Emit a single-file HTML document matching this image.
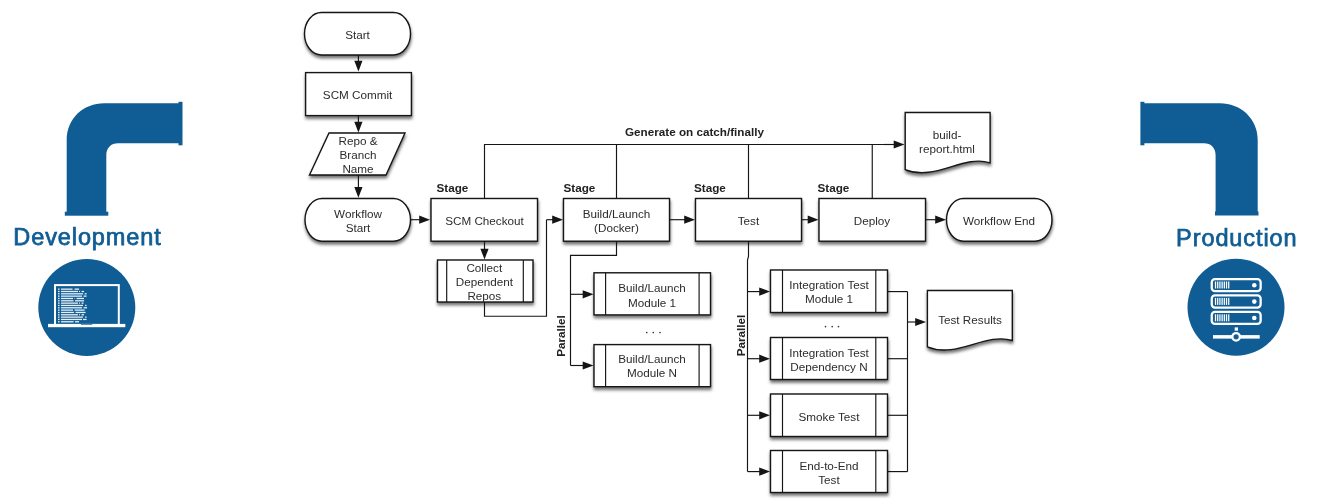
<!DOCTYPE html>
<html><head><meta charset="utf-8">
<style>
html,body{margin:0;padding:0;background:#fff;width:1322px;height:499px;overflow:hidden}
svg{position:absolute;left:0;top:0;display:block;will-change:transform}
.t{font-family:"Liberation Sans",sans-serif;font-size:11.7px;fill:#2c2c2c}
.b{font-family:"Liberation Sans",sans-serif;font-size:11.7px;font-weight:bold;fill:#222}
.lab{font-family:"Liberation Sans",sans-serif;font-size:23.5px;letter-spacing:0.9px;font-weight:normal;fill:#0f5d94;stroke:#0f5d94;stroke-width:0.75px}
.ah{fill:#151515}
</style></head><body>
<svg width="1322" height="499" viewBox="0 0 1322 499">
<defs>
<filter id="sh" x="-10%" y="-20%" width="130%" height="160%">
<feDropShadow dx="0.4" dy="2.7" stdDeviation="1.7" flood-color="#000" flood-opacity="0.55"/>
</filter>
</defs>

<path fill="#0f5d94" d="M66.7 212V140 C66.7 118 84 103.3 104 103.3 H180 V143.3 H118 C111 143.3 106.3 148 106.3 155 V212 Z"/>
<rect fill="#0f5d94" x="64.8" y="211.7" width="43.5" height="4"/>
<rect fill="#0f5d94" x="178.5" y="101.8" width="4" height="43.5"/>


<path fill="#0f5d94" d="M1257.7 212V140 C1257.7 118 1240 103.3 1220 103.3 H1142 V143.3 H1204 C1211 143.3 1215.6 148 1215.6 155 V212 Z"/>
<rect fill="#0f5d94" x="1215" y="211.5" width="43.5" height="4"/>
<rect fill="#0f5d94" x="1140.4" y="101.8" width="4" height="43.5"/>

<text class="lab" x="87.5" y="245.2" text-anchor="middle">Development</text>
<text class="lab" x="1236.8" y="245.5" text-anchor="middle" letter-spacing="1.1">Production</text>

<circle cx="86.8" cy="307.5" r="48.5" fill="#0f5d94"/>
<rect x="55" y="285.1" width="63.8" height="40" fill="none" stroke="#fff" stroke-width="2"/>
<rect x="48" y="323.9" width="77.3" height="3.3" fill="#fff"/>
<rect x="80.9" y="323.9" width="11.4" height="1.1" fill="#5f8fb5"/>
<rect x="58" y="288.50" width="1.6" height="1.3" fill="#e8eef5"/><rect x="61.02" y="288.50" width="11.52" height="1.3" fill="#e8eef5"/><rect x="74.55" y="288.50" width="4.51" height="1.3" fill="#e8eef5"/><rect x="58" y="290.83" width="1.6" height="1.3" fill="#e8eef5"/><rect x="61.02" y="290.83" width="17.03" height="1.3" fill="#e8eef5"/><rect x="79.06" y="290.83" width="1.00" height="1.3" fill="#e8eef5"/><rect x="81.56" y="290.83" width="2.51" height="1.3" fill="#e8eef5"/><rect x="58" y="293.16" width="1.6" height="1.3" fill="#e8eef5"/><rect x="61.02" y="293.16" width="22.04" height="1.3" fill="#e8eef5"/><rect x="84.57" y="293.16" width="2.00" height="1.3" fill="#e8eef5"/><rect x="58" y="295.49" width="1.6" height="1.3" fill="#e8eef5"/><rect x="61.02" y="295.49" width="21.04" height="1.3" fill="#e8eef5"/><rect x="83.57" y="295.49" width="3.01" height="1.3" fill="#e8eef5"/><rect x="58" y="297.82" width="1.6" height="1.3" fill="#e8eef5"/><rect x="61.02" y="297.82" width="12.02" height="1.3" fill="#e8eef5"/><rect x="74.55" y="297.82" width="0.50" height="1.3" fill="#e8eef5"/><rect x="76.55" y="297.82" width="7.52" height="1.3" fill="#e8eef5"/><rect x="58" y="300.15" width="1.6" height="1.3" fill="#e8eef5"/><rect x="61.02" y="300.15" width="12.53" height="1.3" fill="#e8eef5"/><rect x="75.05" y="300.15" width="9.02" height="1.3" fill="#e8eef5"/><rect x="58" y="302.48" width="1.6" height="1.3" fill="#e8eef5"/><rect x="61.02" y="302.48" width="17.03" height="1.3" fill="#e8eef5"/><rect x="79.06" y="302.48" width="1.00" height="1.3" fill="#e8eef5"/><rect x="81.56" y="302.48" width="2.00" height="1.3" fill="#e8eef5"/><rect x="58" y="304.81" width="1.6" height="1.3" fill="#e8eef5"/><rect x="61.02" y="304.81" width="22.04" height="1.3" fill="#e8eef5"/><rect x="85.07" y="304.81" width="1.50" height="1.3" fill="#e8eef5"/><rect x="58" y="307.14" width="1.6" height="1.3" fill="#e8eef5"/><rect x="61.02" y="307.14" width="21.04" height="1.3" fill="#e8eef5"/><rect x="83.57" y="307.14" width="3.51" height="1.3" fill="#e8eef5"/><rect x="58" y="309.47" width="1.6" height="1.3" fill="#e8eef5"/><rect x="61.02" y="309.47" width="12.02" height="1.3" fill="#e8eef5"/><rect x="74.55" y="309.47" width="10.02" height="1.3" fill="#e8eef5"/><rect x="58" y="311.80" width="1.6" height="1.3" fill="#e8eef5"/><rect x="61.02" y="311.80" width="13.03" height="1.3" fill="#e8eef5"/><rect x="75.55" y="311.80" width="10.02" height="1.3" fill="#e8eef5"/><rect x="58" y="314.13" width="1.6" height="1.3" fill="#e8eef5"/><rect x="61.02" y="314.13" width="17.03" height="1.3" fill="#e8eef5"/><rect x="79.06" y="314.13" width="1.00" height="1.3" fill="#e8eef5"/><rect x="81.56" y="314.13" width="2.51" height="1.3" fill="#e8eef5"/><rect x="58" y="316.46" width="1.6" height="1.3" fill="#e8eef5"/><rect x="61.02" y="316.46" width="22.04" height="1.3" fill="#e8eef5"/><rect x="85.07" y="316.46" width="1.50" height="1.3" fill="#e8eef5"/><rect x="58" y="318.79" width="1.6" height="1.3" fill="#e8eef5"/><rect x="61.02" y="318.79" width="21.04" height="1.3" fill="#e8eef5"/><rect x="83.07" y="318.79" width="3.51" height="1.3" fill="#e8eef5"/><rect x="58" y="321.12" width="1.6" height="1.3" fill="#e8eef5"/><rect x="61.02" y="321.12" width="12.53" height="1.3" fill="#e8eef5"/><rect x="75.05" y="321.12" width="4.01" height="1.3" fill="#e8eef5"/>


<circle cx="1236" cy="307.2" r="48.5" fill="#0f5d94"/>
<rect x="1211.75" y="279.04999999999995" width="48.9" height="12.1" rx="3.2" fill="none" stroke="#fff" stroke-width="2.3"/><rect x="1214.90" y="281.5" width="1.25" height="7" fill="#fff"/><rect x="1217.10" y="281.5" width="1.25" height="7" fill="#fff"/><rect x="1219.30" y="281.5" width="1.25" height="7" fill="#fff"/><rect x="1221.50" y="281.5" width="1.25" height="7" fill="#fff"/><rect x="1223.70" y="281.5" width="1.25" height="7" fill="#fff"/><rect x="1225.90" y="281.5" width="1.25" height="7" fill="#fff"/><rect x="1228.10" y="281.5" width="1.25" height="7" fill="#fff"/><circle cx="1254.3" cy="285.2" r="2.3" fill="#fff"/><rect x="1211.75" y="295.45" width="48.9" height="12.1" rx="3.2" fill="none" stroke="#fff" stroke-width="2.3"/><rect x="1214.90" y="297.90000000000003" width="1.25" height="7" fill="#fff"/><rect x="1217.10" y="297.90000000000003" width="1.25" height="7" fill="#fff"/><rect x="1219.30" y="297.90000000000003" width="1.25" height="7" fill="#fff"/><rect x="1221.50" y="297.90000000000003" width="1.25" height="7" fill="#fff"/><rect x="1223.70" y="297.90000000000003" width="1.25" height="7" fill="#fff"/><rect x="1225.90" y="297.90000000000003" width="1.25" height="7" fill="#fff"/><rect x="1228.10" y="297.90000000000003" width="1.25" height="7" fill="#fff"/><circle cx="1254.3" cy="301.6" r="2.3" fill="#fff"/><rect x="1211.75" y="311.84999999999997" width="48.9" height="12.1" rx="3.2" fill="none" stroke="#fff" stroke-width="2.3"/><rect x="1214.90" y="314.3" width="1.25" height="7" fill="#fff"/><rect x="1217.10" y="314.3" width="1.25" height="7" fill="#fff"/><rect x="1219.30" y="314.3" width="1.25" height="7" fill="#fff"/><rect x="1221.50" y="314.3" width="1.25" height="7" fill="#fff"/><rect x="1223.70" y="314.3" width="1.25" height="7" fill="#fff"/><rect x="1225.90" y="314.3" width="1.25" height="7" fill="#fff"/><rect x="1228.10" y="314.3" width="1.25" height="7" fill="#fff"/><circle cx="1254.3" cy="318.0" r="2.3" fill="#fff"/>
<rect x="1234.7" y="327.4" width="3.3" height="3.3" fill="#fff"/>
<rect x="1213" y="335.1" width="46.7" height="3.5" fill="#fff"/>
<circle cx="1236.1" cy="336.8" r="3.75" fill="#0f5d94" stroke="#fff" stroke-width="2.3"/>

<g fill="#fff" stroke="#151515" stroke-width="1.4" filter="url(#sh)">
<rect x="304.5" y="12.5" width="106.0" height="42.5" rx="17" ry="21.25" /><rect x="305.6" y="72.6" width="105.79999999999995" height="43.0" /><path d="M329 133 L405 133 L386 175 L309.5 175Z" /><rect x="305" y="198.5" width="105.5" height="42.69999999999999" rx="17" ry="21.349999999999994" /><rect x="431" y="198.5" width="106.5" height="42.69999999999999" /><rect x="437.5" y="260" width="95.5" height="42" /><rect x="563.5" y="198.5" width="106.0" height="42.69999999999999" /><rect x="695.5" y="198.5" width="106.0" height="42.69999999999999" /><rect x="819" y="198.5" width="106.5" height="42.69999999999999" /><rect x="946.5" y="198.5" width="105.5" height="42.69999999999999" rx="17" ry="21.349999999999994" /><path d="M905.2 112.5H990.1V162.8 C962.8000000000001 154.3 934.9000000000001 181.7 905.2 169.6 Z" /><rect x="594" y="272.8" width="116.5" height="42.099999999999966" /><rect x="594" y="344.6" width="116.5" height="42.099999999999966" /><rect x="770.5" y="270" width="117.0" height="42.5" /><rect x="770.5" y="337.5" width="117.0" height="42.0" /><rect x="770.5" y="394" width="117.0" height="42.5" /><rect x="770.5" y="450.5" width="117.0" height="42.0" /><path d="M927.4 290.5H1012.3V340.5 C985.0 332.0 957.1 359.0 927.4 346.9 Z" />
</g>
<g fill="none" stroke="#151515" stroke-width="1.15">
<path d="M358.4 55V63.5" /><path d="M358.4 115.6V124.5" /><path d="M358.4 175V189.8" /><path d="M410.5 219.7H422" /><path d="M484.5 241V251.5" /><path d="M446.7 260V302M523.3 260V302" /><path d="M484.5 302V316.2H546.5V219.7" /><path d="M546.5 219.7H555" /><path d="M669.5 219.7H687" /><path d="M801.5 219.7H810.5" /><path d="M925.5 219.7H938" /><path d="M484.5 198.5V144.5H884" /><path d="M616.5 144.5V198.5M748.5 144.5V198.5M872.25 144.5V198.5" /><path d="M884 144.5H896.5" /><path d="M616.5 241V255.3H570.5V365.5" /><path d="M570.5 294.3H585.5" /><path d="M570.5 365.5H585.5" /><path d="M605.6 272.8V314.9M699.1 272.8V314.9" /><path d="M605.6 344.6V386.7M699.1 344.6V386.7" /><path d="M748.5 241V256.5L747.5 260V471.5" /><path d="M747.5 291.6H762" /><path d="M887.5 291.6H907.5" /><path d="M747.5 358.7H762" /><path d="M887.5 358.7H907.5" /><path d="M747.5 415.3H762" /><path d="M887.5 415.3H907.5" /><path d="M747.5 471.6H762" /><path d="M887.5 471.6H907.5" /><path d="M782.5 270V312.5M875.8 270V312.5" /><path d="M782.5 337.5V379.5M875.8 337.5V379.5" /><path d="M782.5 394V436.5M875.8 394V436.5" /><path d="M782.5 450.5V492.5M875.8 450.5V492.5" /><path d="M907.5 291.6V471.6" /><path d="M907.5 322H918" />
</g>
<text class="t" x="357.5" y="39" text-anchor="middle">Start</text><path class="ah" d="M358.4 71.5L354.29999999999995 60.7L362.5 60.7Z" /><text class="t" x="357.6" y="99" text-anchor="middle">SCM Commit</text><path class="ah" d="M358.4 132.5L354.29999999999995 121.7L362.5 121.7Z" /><text class="t" x="358" y="145" text-anchor="middle">Repo &amp;</text><text class="t" x="358" y="159" text-anchor="middle">Branch</text><text class="t" x="358" y="173" text-anchor="middle">Name</text><path class="ah" d="M358.4 197.8L354.29999999999995 187.0L362.5 187.0Z" /><text class="t" x="358" y="218" text-anchor="middle">Workflow</text><text class="t" x="358" y="232" text-anchor="middle">Start</text><path class="ah" d="M430 219.7L419.2 215.6L419.2 223.79999999999998Z" /><text class="t" x="484.5" y="225" text-anchor="middle">SCM Checkout</text><path class="ah" d="M484.5 259.5L480.4 248.7L488.6 248.7Z" /><text class="t" x="484.3" y="272" text-anchor="middle">Collect</text><text class="t" x="484.3" y="286" text-anchor="middle">Dependent</text><text class="t" x="484.3" y="300" text-anchor="middle">Repos</text><path class="ah" d="M563 219.7L552.2 215.6L552.2 223.79999999999998Z" /><text class="t" x="616.5" y="217.5" text-anchor="middle">Build/Launch</text><text class="t" x="616.5" y="232" text-anchor="middle">(Docker)</text><path class="ah" d="M695 219.7L684.2 215.6L684.2 223.79999999999998Z" /><text class="t" x="748.5" y="225" text-anchor="middle">Test</text><path class="ah" d="M818.5 219.7L807.7 215.6L807.7 223.79999999999998Z" /><text class="t" x="872" y="225" text-anchor="middle">Deploy</text><path class="ah" d="M946 219.7L935.2 215.6L935.2 223.79999999999998Z" /><text class="t" x="999" y="225" text-anchor="middle">Workflow End</text><path class="ah" d="M904.5 144.5L893.7 140.4L893.7 148.6Z" /><text class="t" x="947" y="139" text-anchor="middle">build-</text><text class="t" x="947" y="153" text-anchor="middle">report.html</text><text class="b" x="694.5" y="135.8" text-anchor="middle">Generate on catch/finally</text><text class="b" x="436.5" y="192">Stage</text><text class="b" x="563.5" y="192">Stage</text><text class="b" x="694" y="192">Stage</text><text class="b" x="817.5" y="192">Stage</text><path class="ah" d="M593.5 294.3L582.7 290.2L582.7 298.40000000000003Z" /><path class="ah" d="M593.5 365.5L582.7 361.4L582.7 369.6Z" /><text class="t" x="652" y="292" text-anchor="middle">Build/Launch</text><text class="t" x="652" y="306.5" text-anchor="middle">Module 1</text><text class="t" x="652" y="362.5" text-anchor="middle">Build/Launch</text><text class="t" x="652" y="377" text-anchor="middle">Module N</text><circle cx="646.75" cy="332.5" r="0.85" fill="#3a3a3a"/><circle cx="653.3" cy="332.5" r="0.85" fill="#3a3a3a"/><circle cx="660" cy="332.5" r="0.85" fill="#3a3a3a"/><text class="b" x="0" y="0" text-anchor="middle" transform="translate(565 336) rotate(-90)">Parallel</text><path class="ah" d="M770 291.6L759.2 287.5L759.2 295.70000000000005Z" /><path class="ah" d="M770 358.7L759.2 354.59999999999997L759.2 362.8Z" /><path class="ah" d="M770 415.3L759.2 411.2L759.2 419.40000000000003Z" /><path class="ah" d="M770 471.6L759.2 467.5L759.2 475.70000000000005Z" /><text class="t" x="829" y="288.5" text-anchor="middle">Integration Test</text><text class="t" x="829" y="302.5" text-anchor="middle">Module 1</text><text class="t" x="829" y="356.5" text-anchor="middle">Integration Test</text><text class="t" x="829" y="370.5" text-anchor="middle">Dependency N</text><text class="t" x="829" y="420.8" text-anchor="middle">Smoke Test</text><text class="t" x="829" y="470" text-anchor="middle">End-to-End</text><text class="t" x="829" y="484" text-anchor="middle">Test</text><path class="ah" d="M926 322L915.2 317.9L915.2 326.1Z" /><circle cx="825.5" cy="326.6" r="0.85" fill="#3a3a3a"/><circle cx="832.2" cy="326.6" r="0.85" fill="#3a3a3a"/><circle cx="838.5" cy="326.6" r="0.85" fill="#3a3a3a"/><text class="b" x="0" y="0" text-anchor="middle" transform="translate(745 335.5) rotate(-90)">Parallel</text><text class="t" x="970" y="323.5" text-anchor="middle">Test Results</text>
</svg>
</body></html>
